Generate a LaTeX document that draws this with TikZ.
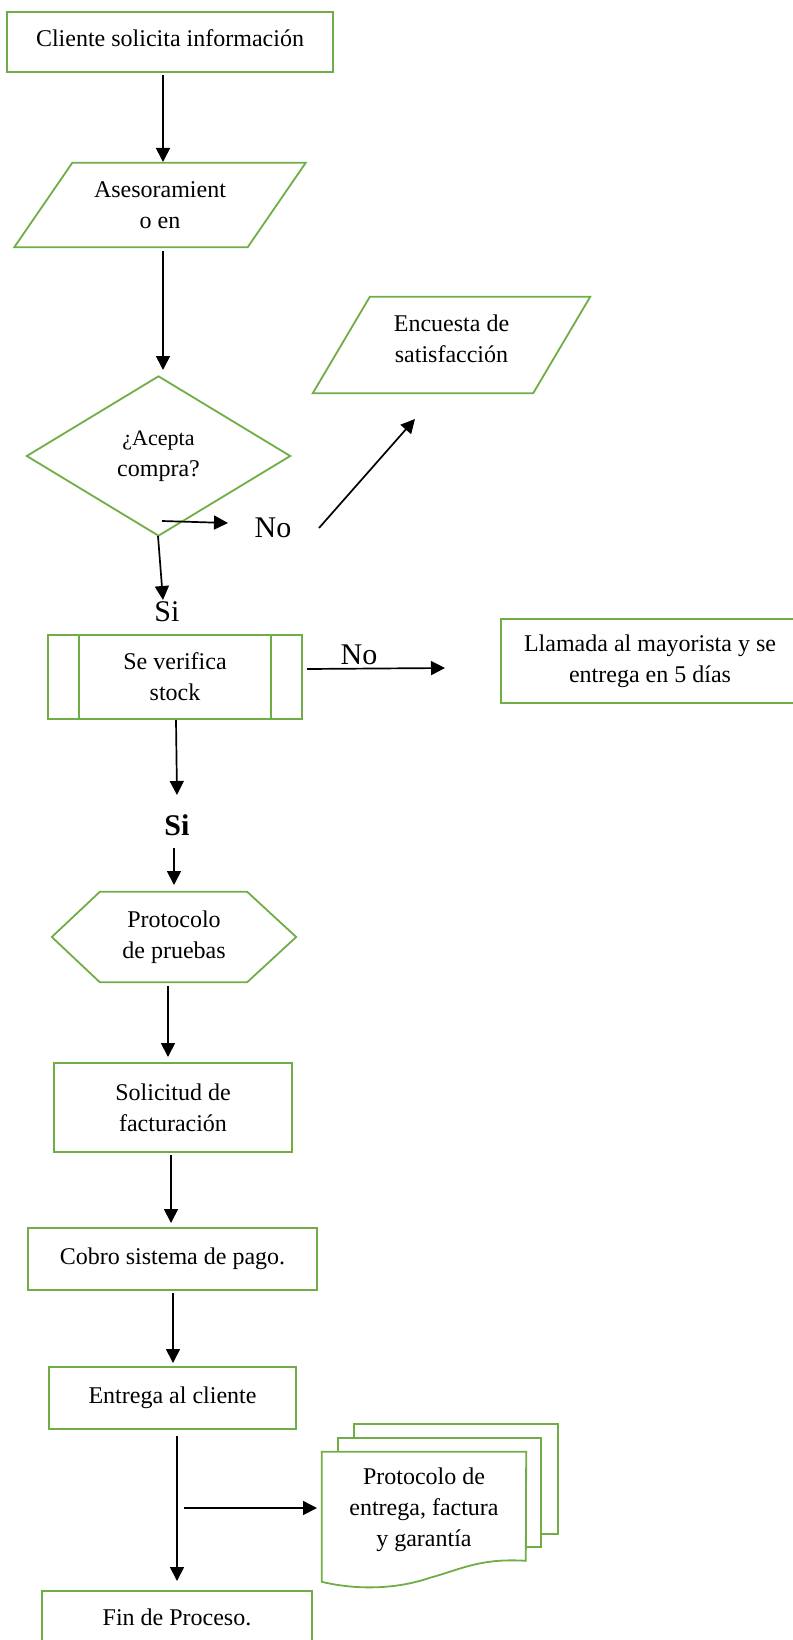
\documentclass[tikz,border=0pt]{standalone}
\usepackage{fontspec}
\setmainfont{Liberation Serif}
\usetikzlibrary{arrows.meta,calc}
\definecolor{fgreen}{RGB}{112,173,71}
\newcommand\flowfont{\fontsize{24}{31}\selectfont}
\newcommand\bigfont{\fontsize{30}{30}\selectfont}
\begin{document}
\begin{tikzpicture}[x=1pt,y=-1pt,
  font=\flowfont,
  area/.style={inner sep=0pt, align=center},
  box/.style={area, draw=fgreen, line width=1.8pt},
  outline/.style={draw=fgreen, line width=1.8pt, line join=miter},
  arr/.style={draw=black, line width=1.7pt, -{Triangle[length=14pt,width=14pt]}},
  lbl/.style={inner sep=0pt, font=\bigfont}]
\useasboundingbox (0,0) rectangle (792,1640);

% shapes
\node[area, minimum width=326pt, minimum height=60pt] (b1) at (170,38) {Cliente solicita información};
\draw[outline] ($(b1.north west)+(0,4)$) rectangle ($(b1.south east)+(0,4)$);

\node[area, minimum width=233pt, minimum height=84pt] (p1) at (160,205) {Asesoramient\\o en};
\draw[outline] ($(p1.north west)+(29,0)$) -- ($(p1.north east)+(29,0)$) -- ($(p1.south east)+(-29,0)$) -- ($(p1.south west)+(-29,0)$) -- cycle;

\node[area, minimum width=263pt, minimum height=159pt] (d1) at (158.5,456) {{\fontsize{22}{31}\selectfont ¿Acepta}\\compra?};
\draw[outline] (d1.north) -- (d1.east) -- (d1.south) -- (d1.west) -- cycle;

\node[area, minimum width=220pt, minimum height=96pt] (p2) at (451.5,339) {Encuesta de\\satisfacción};
\draw[outline] ($(p2.north west)+(28.5,6)$) -- ($(p2.north east)+(28.5,6)$) -- ($(p2.south east)+(-28.5,6)$) -- ($(p2.south west)+(-28.5,6)$) -- cycle;

\node[box, minimum width=254pt, minimum height=84pt] (s1) at (175,677) {Se verifica\\stock};
\draw[outline] ($(s1.north west)+(32,0)$) -- ($(s1.south west)+(32,0)$);
\draw[outline] ($(s1.north east)+(-32,0)$) -- ($(s1.south east)+(-32,0)$);

\node[box, minimum width=298pt, minimum height=84pt] (l1) at (650,661) {Llamada al mayorista y se\\entrega en 5 días};

\node[area, minimum width=244pt, minimum height=90pt] (h1) at (174,937) {Protocolo\\de pruebas};
\draw[outline] ($(h1.north west)+(48,0)$) -- ($(h1.north east)+(-49,0)$) -- (h1.east) -- ($(h1.south east)+(-49,0)$) -- ($(h1.south west)+(48,0)$) -- (h1.west) -- cycle;

\node[box, minimum width=238pt, minimum height=89pt] (sb) at (173,1107.5) {Solicitud de\\facturación};
\node[box, minimum width=289pt, minimum height=62pt] (cb) at (172.5,1259) {Cobro sistema de pago.};
\node[box, minimum width=247pt, minimum height=62pt] (eb) at (172.5,1398) {Entrega al cliente};

\node[area, minimum width=204pt, minimum height=116pt] (doc) at (424,1510) {Protocolo de\\entrega, factura\\y garantía};
\draw[outline] ($(doc.north west)+(32,-14)$) -- ($(doc.north west)+(32,-28)$) -- ($(doc.north east)+(32,-28)$) -- ($(doc.north east)+(32,82)$) -- ($(doc.north east)+(15,82)$);
\draw[outline] ($(doc.north west)+(16,0)$) -- ($(doc.north west)+(16,-14)$) -- ($(doc.north east)+(15,-14)$) -- ($(doc.north east)+(15,95)$) -- ($(doc.north east)+(0,95)$);
\draw[outline] (doc.north west) -- (doc.north east) -- ($(doc.north west)+(204,109)$)
  .. controls ($(doc.north west)+(158,106)$) and ($(doc.north west)+(138,118)$) .. ($(doc.north west)+(108,126)$)
  .. controls ($(doc.north west)+(73,138)$) and ($(doc.north west)+(33,138)$) .. ($(doc.north west)+(0,130)$) -- cycle;

\node[box, minimum width=270pt, minimum height=52pt] (fb) at (177,1617) {Fin de Proceso.};

% labels
\node[lbl] (no1) at (273,528) {No};
\node[lbl] (si1) at (167,612) {Si};
\node[lbl] (no2) at (359,655) {No};
\node[lbl, font=\bigfont\bfseries] (si2) at (177,825) {Si};

% arrow end points
\coordinate (a1s) at (163,75);   \coordinate (a1e) at (163,162);
\coordinate (a2s) at (163,251);  \coordinate (a2e) at (163,370);
\coordinate (a3s) at (162,521);  \coordinate (a3e) at (228,523);
\coordinate (a4s) at (319,528);  \coordinate (a4e) at (415,419);
\coordinate (a5s) at (158,536);  \coordinate (a5e) at (163,600);
\coordinate (a6s) at (307,669);  \coordinate (a6e) at (445,668);
\coordinate (a7s) at (176,720);  \coordinate (a7e) at (177,795);
\coordinate (a8s) at (174,848);  \coordinate (a8e) at (174,885);
\coordinate (a9s) at (168,986);  \coordinate (a9e) at (168,1057);
\coordinate (a10s) at (171,1155); \coordinate (a10e) at (171,1223);
\coordinate (a11s) at (173,1293); \coordinate (a11e) at (173,1363);
\coordinate (a12s) at (177,1436); \coordinate (a12e) at (177,1581);
\coordinate (a13s) at (184,1508); \coordinate (a13e) at (317,1508);

\foreach \i in {1,...,13} {\draw[arr] (a\i s) -- (a\i e);}
\end{tikzpicture}
\end{document}
